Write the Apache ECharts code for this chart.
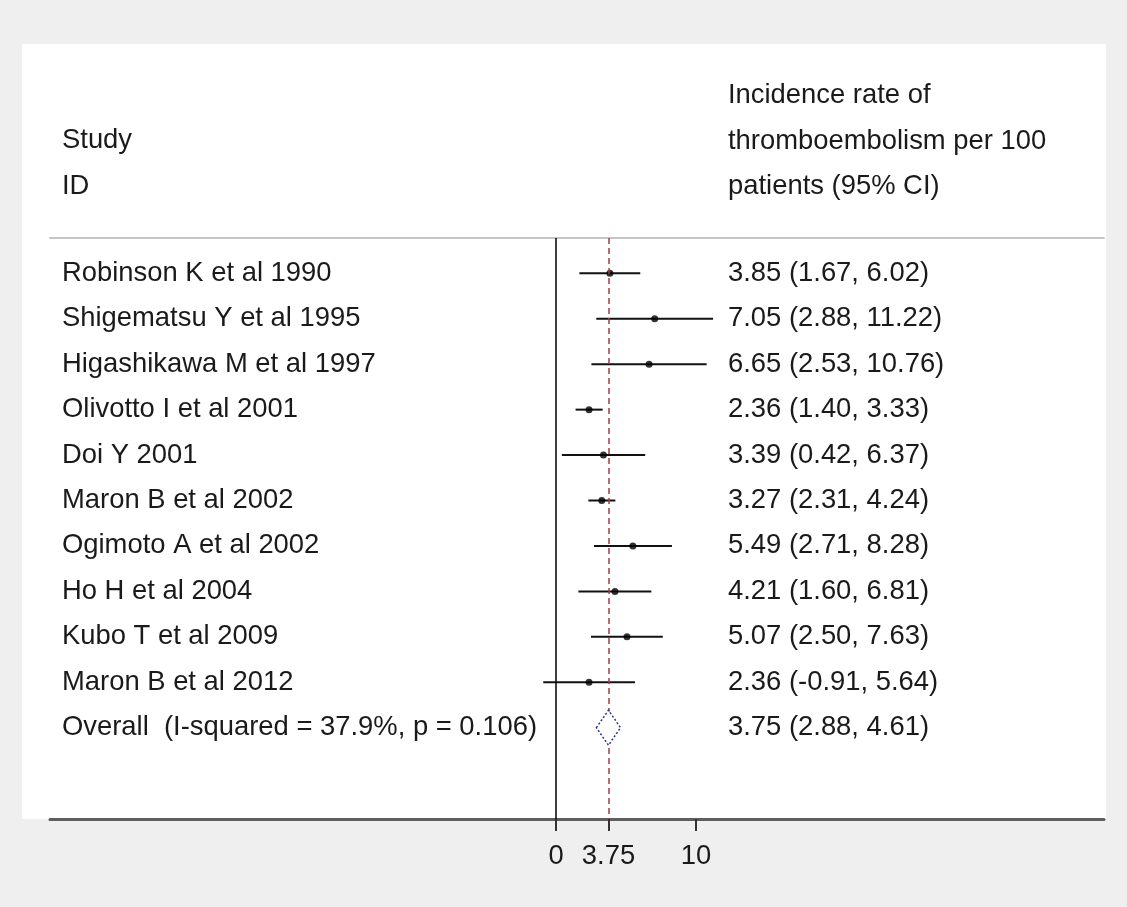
<!DOCTYPE html>
<html>
<head>
<meta charset="utf-8">
<script src="https://cdn.jsdelivr.net/npm/echarts@6/dist/echarts.min.js"></script>
<style>
html,body{margin:0;padding:0;background:#efefef;}
#chart{width:1127px;height:907px;}
</style>
</head>
<body>
<div id="chart"></div>
<script>
// ---- data ----
const studies = [
  'Robinson K et al 1990',
  'Shigematsu Y et al 1995',
  'Higashikawa M et al 1997',
  'Olivotto I et al 2001',
  'Doi Y 2001',
  'Maron B et al 2002',
  'Ogimoto A et al 2002',
  'Ho H et al 2004',
  'Kubo T et al 2009',
  'Maron B et al 2012'
];
const estimates = [3.85, 7.05, 6.65, 2.36, 3.39, 3.27, 5.49, 4.21, 5.07, 2.36];
const lowerCI   = [1.67, 2.88, 2.53, 1.40, 0.42, 2.31, 2.71, 1.60, 2.50, -0.91];
const upperCI   = [6.02, 11.22, 10.76, 3.33, 6.37, 4.24, 8.28, 6.81, 7.63, 5.64];
const pooledLabel = 'Overall  (I-squared = 37.9%, p = 0.106)';
const pooledEst = 3.75;
const pooledLower = 2.88;
const pooledUpper = 4.61;
const xTicks = [0, 3.75, 10];
const headerLeft = ['Study', 'ID'];
const headerRight = ['Incidence rate of', 'thromboembolism per 100', 'patients (95% CI)'];

// ---- derived ----
const rowNames = studies.concat([pooledLabel]);
const allEst = estimates.concat([pooledEst]);
const allLo = lowerCI.concat([pooledLower]);
const allHi = upperCI.concat([pooledUpper]);
const rowText = allEst.map((e, i) => e.toFixed(2) + ' (' + allLo[i].toFixed(2) + ', ' + allHi[i].toFixed(2) + ')');
const rowIdx = rowNames.map((_, i) => i);

const FONT = 'Arial';
const FS = 27.4;
const TXT = '#1a1a1a';

const chart = echarts.init(document.getElementById('chart'), null, {renderer: 'canvas'});

const xMin = -36.142857, xMax = 39.142857;
const yMin = -0.777, yMax = 12.009;

function hdr(x, y, t) {
  return {type: 'text', z: 10, x: x, y: y,
    style: {text: t, font: FS + 'px ' + FONT, fill: TXT, textVerticalAlign: 'middle'}};
}

const option = {
  backgroundColor: '#efefef',
  animation: false,
  textStyle: {fontFamily: FONT},
  graphic: [
    {type: 'rect', z: -10, shape: {x: 22, y: 44, width: 1084, height: 775}, style: {fill: '#ffffff'}},
    hdr(62, 140, headerLeft[0]),
    hdr(62, 186, headerLeft[1]),
    hdr(728, 95, headerRight[0]),
    hdr(728, 141, headerRight[1]),
    hdr(728, 186, headerRight[2])
  ],
  grid: {left: 50, right: 23, top: 238, bottom: 88, containLabel: false},
  xAxis: [
    {
      type: 'value', min: xMin, max: xMax, position: 'bottom',
      axisLine: {show: true, onZero: false, lineStyle: {color: '#5e5e5e', width: 3}},
      axisTick: {show: true, customValues: xTicks, length: 12, lineStyle: {color: '#333', width: 2}},
      axisLabel: {customValues: xTicks, margin: 24, fontSize: FS, fontFamily: FONT, color: TXT,
        formatter: v => String(v)},
      splitLine: {show: false}
    },
    {
      type: 'value', min: xMin, max: xMax, position: 'top',
      axisLine: {show: true, onZero: false, lineStyle: {color: '#c6c6c6', width: 2}},
      axisTick: {show: false}, axisLabel: {show: false}, splitLine: {show: false}
    }
  ],
  yAxis: [
    {
      type: 'value', inverse: true, min: yMin, max: yMax, position: 'left',
      axisLine: {show: false}, axisTick: {show: false}, splitLine: {show: false},
      axisLabel: {customValues: rowIdx, align: 'left', margin: -12, fontSize: FS, fontFamily: FONT, color: TXT,
        verticalAlign: 'middle', padding: [7, 0, 0, 0],
        formatter: v => rowNames[Math.round(v)]}
    },
    {
      type: 'value', inverse: true, min: yMin, max: yMax, position: 'right',
      axisLine: {show: false}, axisTick: {show: false}, splitLine: {show: false},
      axisLabel: {customValues: rowIdx, align: 'left', margin: -376, fontSize: FS, fontFamily: FONT, color: TXT,
        verticalAlign: 'middle', padding: [7, 0, 0, 0],
        formatter: v => rowText[Math.round(v)]}
    }
  ],
  series: [
    {
      type: 'custom', name: 'ci', xAxisIndex: 0, yAxisIndex: 0,
      data: studies.map((s, i) => [lowerCI[i], upperCI[i], i]),
      renderItem: function (params, api) {
        const a = api.coord([api.value(0), api.value(2)]);
        const b = api.coord([api.value(1), api.value(2)]);
        return {type: 'line', shape: {x1: a[0], y1: a[1], x2: b[0], y2: b[1]},
          style: {stroke: '#111', lineWidth: 2}};
      },
      markLine: {
        silent: true, symbol: 'none', animation: false,
        label: {show: false},
        data: [
          {xAxis: 0, lineStyle: {color: '#000', width: 1.5, type: 'solid'}},
          {xAxis: pooledEst, lineStyle: {color: '#a0403e', width: 1.5, type: [6, 4]}}
        ]
      },
      z: 3
    },
    {
      type: 'scatter', name: 'est', xAxisIndex: 0, yAxisIndex: 0,
      data: estimates.map((e, i) => [e, i]),
      symbol: 'circle', symbolSize: 7,
      itemStyle: {color: '#000'}, z: 4
    },
    {
      type: 'custom', name: 'pooled', xAxisIndex: 0, yAxisIndex: 0,
      data: [[pooledLower, pooledEst, pooledUpper, studies.length]],
      renderItem: function (params, api) {
        const r = api.value(3);
        const h = 0.385;
        const p1 = api.coord([api.value(0), r]);
        const p2 = api.coord([api.value(1), r - h]);
        const p3 = api.coord([api.value(2), r]);
        const p4 = api.coord([api.value(1), r + h]);
        return {type: 'polygon', shape: {points: [p1, p2, p3, p4]},
          style: {fill: '#ffffff', stroke: '#2e3585', lineWidth: 1.5, lineDash: [2, 2]}};
      },
      z: 5
    }
  ]
};
chart.setOption(option);
</script>
</body>
</html>
